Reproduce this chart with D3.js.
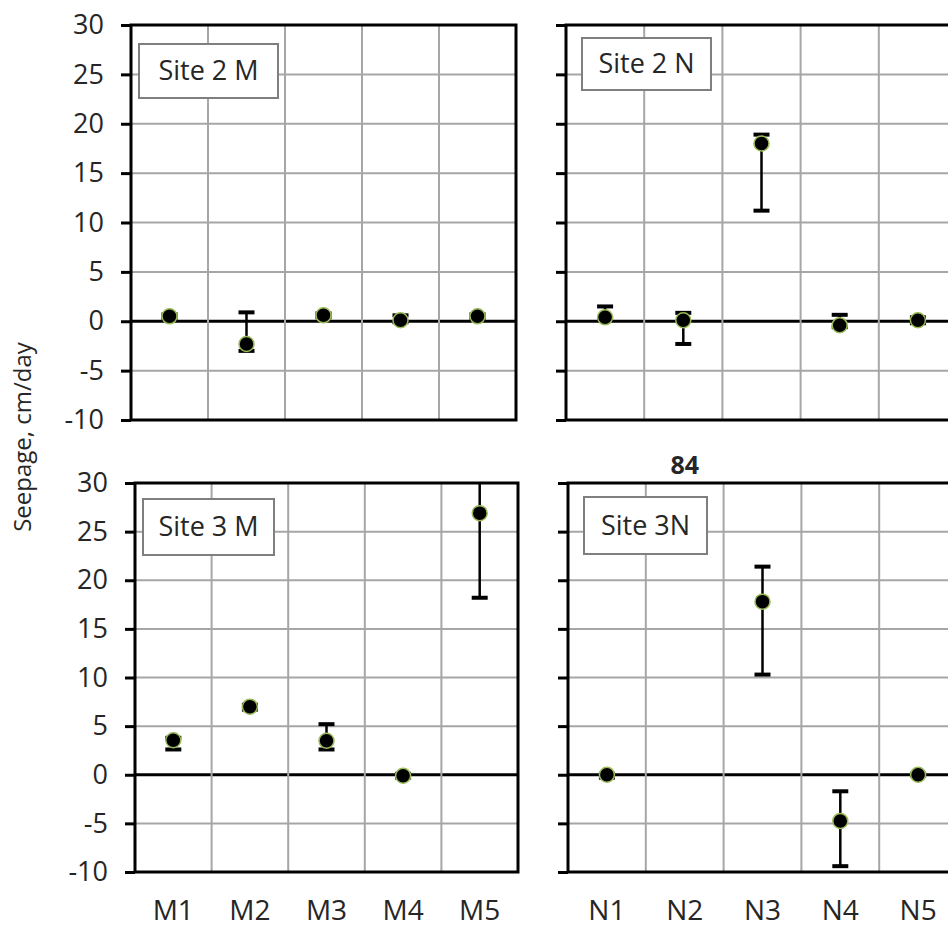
<!DOCTYPE html>
<html>
<head>
<meta charset="utf-8">
<script src="https://cdn.jsdelivr.net/npm/d3@7"></script>
<style>
  body { margin: 0; background: #fff; }
  text { font-family: "Open Sans", sans-serif; fill: #262626; }
</style>
</head>
<body>
<div id="chart"></div>
<script>
// categories and tick values
const mStations = ["M1", "M2", "M3", "M4", "M5"];
const nStations = ["N1", "N2", "N3", "N4", "N5"];
const yTicks = [-10, -5, 0, 5, 10, 15, 20, 25, 30];

// seepage (cm/day): mean, lower and upper error bar ends
const site2M_mean = [0.5, -2.3, 0.6, 0.1, 0.5];
const site2M_low = [0.3, -3.0, 0.4, -0.1, 0.3];
const site2M_high = [0.7, 0.9, 0.8, 0.6, 0.7];

const site2N_mean = [0.4, 0.1, 18.0, -0.4, 0.1];
const site2N_low = [0.2, -2.3, 11.2, -0.6, -0.2];
const site2N_high = [1.5, 0.85, 18.9, 0.65, 0.4];

const site3M_mean = [3.55, 7.0, 3.5, -0.1, 26.9];
const site3M_low = [2.6, 6.7, 2.6, -0.3, 18.2];
const site3M_high = [3.8, 7.2, 5.2, 0.1, 34.0];

const site3N_mean = [0.0, 84, 17.8, -4.75, 0.0];
const site3N_low = [-0.3, 84, 10.3, -9.4, -0.1];
const site3N_high = [0.1, 84, 21.4, -1.7, 0.1];

const panels = [
  { name: "Site 2 M", cats: mStations, mean: site2M_mean, low: site2M_low, high: site2M_high,
    x0: 131, x1: 516, y0: 25, y1: 420, labels: true, xlab: false, box: [139, 44, 139, 54] },
  { name: "Site 2 N", cats: nStations, mean: site2N_mean, low: site2N_low, high: site2N_high,
    x0: 566, x1: 957, y0: 25, y1: 420, labels: false, xlab: false, box: [582, 38, 129, 52] },
  { name: "Site 3 M", cats: mStations, mean: site3M_mean, low: site3M_low, high: site3M_high,
    x0: 135, x1: 518, y0: 483, y1: 872, labels: true, xlab: true, box: [143, 499, 131, 56] },
  { name: "Site 3N", cats: nStations, mean: site3N_mean, low: site3N_low, high: site3N_high,
    x0: 568, x1: 957, y0: 483, y1: 872, labels: false, xlab: true, box: [584, 497, 123, 57] }
];

const svg = d3.select("#chart").append("svg")
  .attr("width", 948)
  .attr("height", 928);

panels.forEach((p, i) => {
  const x = d3.scaleBand().domain(p.cats).range([p.x0, p.x1]);
  const y = d3.scaleLinear().domain([-10, 30]).range([p.y1, p.y0]);
  const g = svg.append("g");

  // clip so error bars stop at the frame
  g.append("clipPath").attr("id", "clip" + i)
    .append("rect")
    .attr("x", p.x0).attr("y", p.y0)
    .attr("width", p.x1 - p.x0).attr("height", p.y1 - p.y0);

  // horizontal grid
  g.selectAll(".hgrid").data(yTicks).enter().append("line")
    .attr("x1", p.x0).attr("x2", p.x1)
    .attr("y1", d => y(d)).attr("y2", d => y(d))
    .attr("stroke", d => d === 0 ? "#000" : "#a6a6a6")
    .attr("stroke-width", d => d === 0 ? 3 : 2);

  // vertical grid at category boundaries
  g.selectAll(".vgrid").data(p.cats.slice(1)).enter().append("line")
    .attr("x1", d => x(d)).attr("x2", d => x(d))
    .attr("y1", p.y0).attr("y2", p.y1)
    .attr("stroke", "#a6a6a6")
    .attr("stroke-width", 2);

  // frame
  g.append("rect")
    .attr("x", p.x0).attr("y", p.y0)
    .attr("width", p.x1 - p.x0).attr("height", p.y1 - p.y0)
    .attr("fill", "none")
    .attr("stroke", "#000")
    .attr("stroke-width", 3);

  // y axis ticks (and labels on the left panels)
  const axis = d3.axisLeft(y).tickValues(yTicks).tickSize(10).tickPadding(17)
    .tickFormat(p.labels ? (d => String(d)) : "");
  const ax = g.append("g").attr("transform", `translate(${p.x0},0)`).call(axis);
  ax.select(".domain").remove();
  ax.selectAll(".tick line").attr("stroke", "#000").attr("stroke-width", 3);
  ax.selectAll(".tick text")
    .style("font-family", "'Open Sans', sans-serif")
    .style("font-size", "27px")
    .attr("fill", "#262626");

  // x category labels
  if (p.xlab) {
    g.selectAll(".xlab").data(p.cats).enter().append("text")
      .attr("x", d => x(d) + x.bandwidth() / 2)
      .attr("y", 920)
      .attr("text-anchor", "middle")
      .style("font-size", "28px")
      .text(d => d);
  }

  const pts = p.cats.map((c, j) => ({ cat: c, mean: p.mean[j], low: p.low[j], high: p.high[j] }));
  const inRange = pts.filter(d => d.mean <= 30 && d.mean >= -10);
  const cx = d => x(d.cat) + x.bandwidth() / 2;

  const eb = g.append("g").attr("clip-path", `url(#clip${i})`);
  eb.selectAll(".stem").data(inRange).enter().append("line")
    .attr("x1", cx).attr("x2", cx)
    .attr("y1", d => y(d.low)).attr("y2", d => y(d.high))
    .attr("stroke", "#000").attr("stroke-width", 2.5);
  ["low", "high"].forEach(k => {
    eb.selectAll(".cap-" + k).data(inRange).enter().append("line")
      .attr("x1", d => cx(d) - 8).attr("x2", d => cx(d) + 8)
      .attr("y1", d => y(d[k])).attr("y2", d => y(d[k]))
      .attr("stroke", "#000").attr("stroke-width", 4);
  });

  g.selectAll(".pt").data(inRange).enter().append("circle")
    .attr("cx", cx)
    .attr("cy", d => y(d.mean))
    .attr("r", 7.5)
    .attr("fill", "#000")
    .attr("stroke", "#9bbb59")
    .attr("stroke-width", 1.5);

  // off-scale values written above the frame
  g.selectAll(".off").data(pts.filter(d => d.mean > 30)).enter().append("text")
    .attr("x", cx)
    .attr("y", p.y0 - 9)
    .attr("text-anchor", "middle")
    .style("font-size", "25px")
    .style("font-weight", "bold")
    .text(d => d.mean);

  // site label box
  const [bx, by, bw, bh] = p.box;
  g.append("rect")
    .attr("x", bx).attr("y", by).attr("width", bw).attr("height", bh)
    .attr("fill", "#fff")
    .attr("stroke", "#7f7f7f")
    .attr("stroke-width", 2);
  g.append("text")
    .attr("x", bx + bw / 2)
    .attr("y", by + bh / 2)
    .attr("dy", "0.35em")
    .attr("text-anchor", "middle")
    .style("font-size", "27px")
    .text(p.name);
});

// shared y axis title
svg.append("text")
  .attr("transform", "translate(31,437) rotate(-90)")
  .attr("text-anchor", "middle")
  .style("font-size", "24px")
  .text("Seepage, cm/day");
</script>
</body>
</html>
